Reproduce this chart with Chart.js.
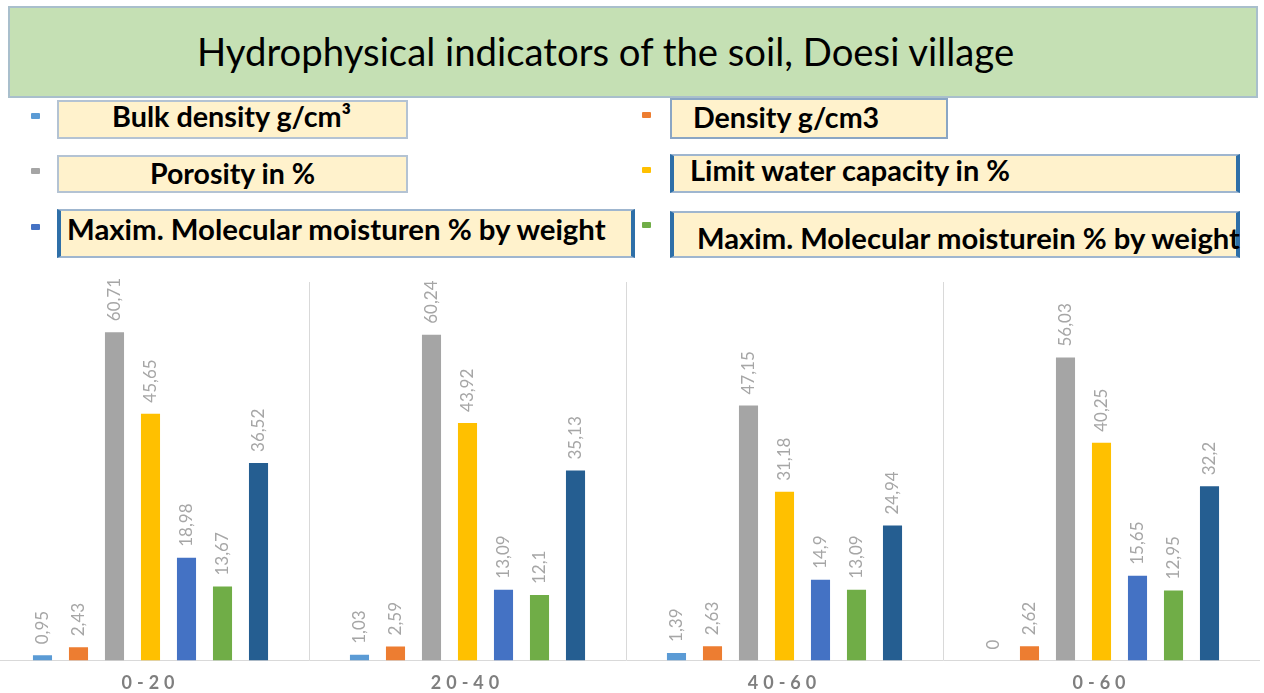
<!DOCTYPE html>
<html>
<head>
<meta charset="utf-8">
<script src="https://cdn.jsdelivr.net/npm/chart.js@4.4.1/dist/chart.umd.min.js"></script>
<style>
html,body{margin:0;padding:0;background:#fff;width:1264px;height:693px;overflow:hidden;position:relative;font-family:Lato,"Open Sans",sans-serif;}
.abs{position:absolute;box-sizing:border-box;}
#titleBox{left:8px;top:6px;width:1250px;height:92px;background:#c5e0b4;border:2px solid #a9bfcc;}
.txt{position:absolute;white-space:nowrap;color:#000;}
.lbox{position:absolute;box-sizing:border-box;background:#fff2cc;}
.mark{position:absolute;width:9px;height:6px;border-radius:1px;}
#chartWrap{position:absolute;left:-8px;top:270px;width:1268px;height:436px;}
</style>
</head>
<body>
<div id="titleBox" class="abs"></div>
<div id="legend"></div>
<div id="chartWrap"><canvas id="c" width="1268" height="436"></canvas></div>
<script>
// ---- data ----
const titleText = "Hydrophysical indicators of the soil, Doesi village";
const categories = ["0-20", "20-40", "40-60", "0-60"];
const seriesNames = [
  "Bulk density g/cm\u00B3",
  "Density g/cm3",
  "Porosity in %",
  "Limit water capacity in %",
  "Maxim. Molecular moisturen % by weight",
  "Maxim. Molecular moisturein % by weight",
  ""
];
const bulkDensity   = [0.95, 1.03, 1.39, 0];
const density       = [2.43, 2.59, 2.63, 2.62];
const porosity      = [60.71, 60.24, 47.15, 56.03];
const limitWater    = [45.65, 43.92, 31.18, 40.25];
const maxMolecularA = [18.98, 13.09, 14.9, 15.65];
const maxMolecularB = [13.67, 12.1, 13.09, 12.95];
const series7       = [36.52, 35.13, 24.94, 32.2];

const seriesValues = [bulkDensity, density, porosity, limitWater, maxMolecularA, maxMolecularB, series7];
const seriesColors = ["#5b9bd5", "#ed7d31", "#a5a5a5", "#ffc000", "#4472c4", "#70ad47", "#255e91"];

// ---- layout (styles only) ----
const legendLayout = [
  {mx:31, my:113, box:[57,100,351,39], border:"2px solid #b4c3d3", thick:false, tx:112, tw:240, base:128},
  {mx:642,my:112, box:[670,98,278,41], border:"2px solid #8aa6c4", thick:false, tx:693, tw:187, base:128},
  {mx:31, my:168, box:[57,155,351,38], border:"2px solid #b4c3d3", thick:false, tx:150, tw:166, base:184},
  {mx:642,my:167, box:[670,154,570,39], border:"2px solid #9fb6cf", thick:true, tx:690, tw:322, base:182},
  {mx:31, my:224, box:[57,209,578,49], border:"2px solid #9fb6cf", thick:true, tx:67, tw:541, base:240},
  {mx:642,my:222, box:[670,211,570,47], border:"2px solid #9fb6cf", thick:true, tx:697, tw:545, base:249}
];

const measureCtx = document.createElement('canvas').getContext('2d');
function fitText(el, text, left, baseline, width, weight, family){
  measureCtx.font = weight + " 100px " + family;
  const m = measureCtx.measureText(text);
  const size = 100 * width / m.width;
  const asc = (m.fontBoundingBoxAscent || 98.7) * size / 100;
  const desc = (m.fontBoundingBoxDescent || 21.3) * size / 100;
  el.textContent = text;
  el.style.fontSize = size + "px";
  el.style.lineHeight = size + "px";
  el.style.fontWeight = weight;
  el.style.fontFamily = family;
  el.style.left = left + "px";
  el.style.top = (baseline - ((size - asc - desc) / 2 + asc)) + "px";
}

// Title
const t = document.createElement('div');
t.className = 'txt';
document.body.appendChild(t);
fitText(t, titleText, 197, 66, 819, 400, "Lato");

// Legend
const legend = document.getElementById('legend');
legendLayout.forEach((L, i) => {
  const mk = document.createElement('div');
  mk.className = 'mark';
  mk.style.left = L.mx + 'px'; mk.style.top = L.my + 'px';
  mk.style.background = seriesColors[i];
  legend.appendChild(mk);
  const b = document.createElement('div');
  b.className = 'lbox';
  b.style.left = L.box[0] + 'px'; b.style.top = L.box[1] + 'px';
  b.style.width = L.box[2] + 'px'; b.style.height = L.box[3] + 'px';
  b.style.border = L.border;
  if (L.thick) { b.style.borderLeft = "4px solid #2e6fa8"; b.style.borderRight = "4px solid #2e6fa8"; }
  legend.appendChild(b);
  const tx = document.createElement('div');
  tx.className = 'txt';
  legend.appendChild(tx);
  fitText(tx, seriesNames[i], L.tx, L.base, L.tw, 700, "Lato");
});

// Chart
const fmt = v => String(v).replace('.', ',');
const labelPlugin = {
  id: 'barLabels',
  beforeDraw(chart){ chart.ctx.letterSpacing = '5px'; },
  beforeDatasetsDraw(chart){ chart.ctx.letterSpacing = '0px'; },
  afterDatasetsDraw(chart){
    const ctx = chart.ctx;
    chart.data.datasets.forEach((ds, i) => {
      const meta = chart.getDatasetMeta(i);
      meta.data.forEach((el, j) => {
        ctx.save();
        ctx.translate(el.x, el.y - 11);
        ctx.rotate(-Math.PI / 2);
        ctx.font = "17px Lato";
        ctx.fillStyle = "#a6a6a6";
        ctx.textAlign = "left";
        ctx.textBaseline = "middle";
        ctx.fillText(fmt(ds.data[j]), 0, 0);
        ctx.restore();
      });
    });
  }
};

new Chart(document.getElementById('c'), {
  type: 'bar',
  data: {
    labels: categories,
    datasets: seriesValues.map((vals, i) => ({
      label: seriesNames[i],
      data: vals,
      backgroundColor: seriesColors[i],
      borderWidth: 0,
      categoryPercentage: 0.795,
      barPercentage: 0.53
    }))
  },
  options: {
    responsive: false,
    animation: false,
    layout: {padding: {top: 12, left: 0, right: 0, bottom: 0}},
    plugins: {legend: {display: false}, title: {display: false}, tooltip: {enabled: false}},
    scales: {
      x: {
        grid: {
          offset: true,
          drawTicks: false,
          color: c => (c.index === undefined || c.index === 0) ? 'rgba(0,0,0,0)' : '#d9d9d9',
          lineWidth: 1
        },
        border: {display: true, color: '#d9d9d9', width: 1},
        ticks: {color: '#7f7f7f', font: {family: 'Lato', size: 18, weight: 'bold'}, padding: 12}
      },
      y: {display: false, min: 0, max: 70}
    }
  },
  plugins: [labelPlugin]
});
</script>
</body>
</html>
